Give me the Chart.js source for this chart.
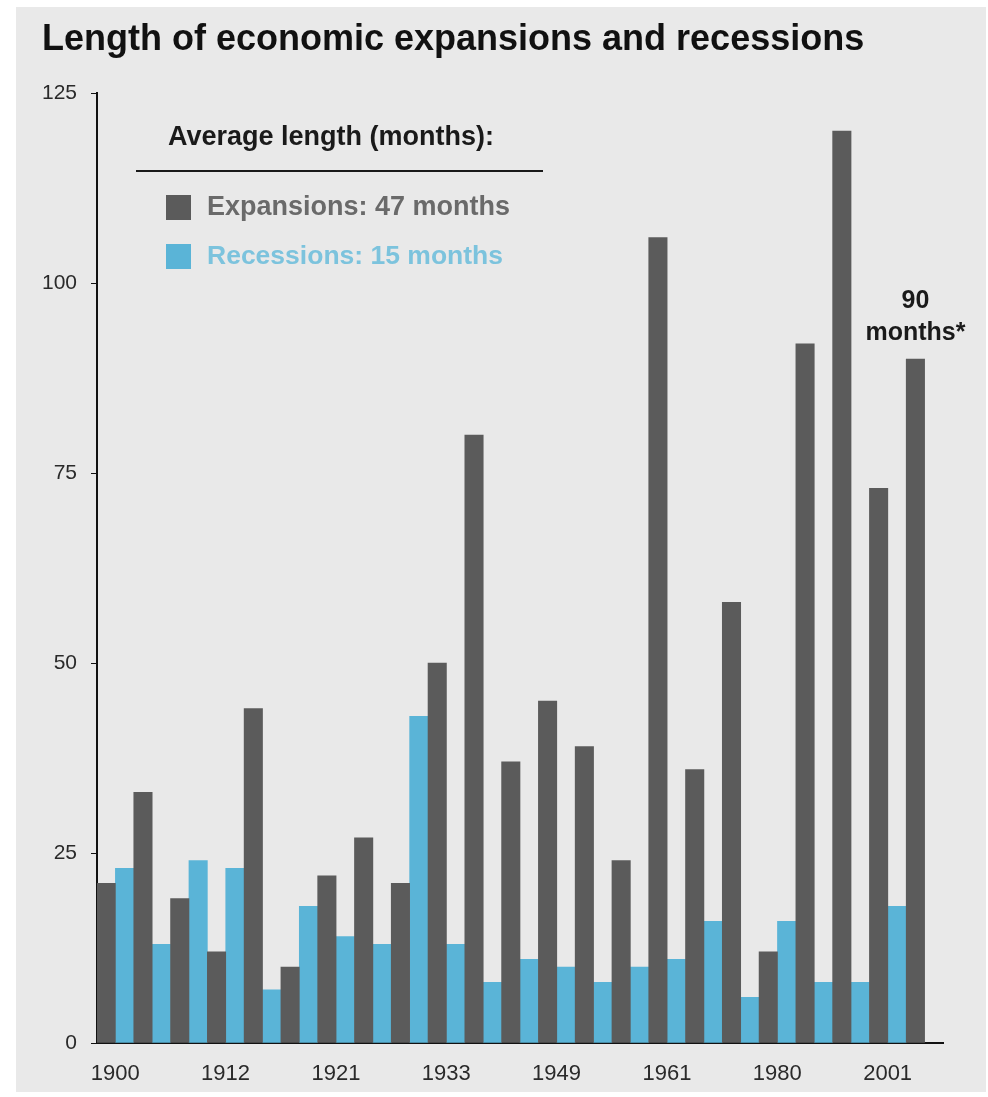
<!DOCTYPE html>
<html>
<head>
<meta charset="utf-8">
<title>Length of economic expansions and recessions</title>
<script src="https://cdn.jsdelivr.net/npm/chart.js@4.4.0/dist/chart.umd.min.js"></script>
<style>
  html, body { margin: 0; padding: 0; background: #fff; }
  #wrap { width: 988px; height: 1097px; }
</style>
</head>
<body>
<div id="wrap"><canvas id="chart" width="988" height="1097"></canvas></div>
<script>
// cycle lengths in months, oldest first
const expansions = [21, 33, 19, 12, 44, 10, 22, 27, 21, 50, 80, 37, 45, 39, 24, 106, 36, 58, 12, 92, 120, 73, 90];
const recessions = [23, 13, 24, 23, 7, 18, 14, 13, 43, 13, 8, 11, 10, 8, 10, 11, 16, 6, 16, 8, 8, 18];
const yearLabels = ['1900', '1912', '1921', '1933', '1949', '1961', '1980', '2001'];
const yTicks = [0, 25, 50, 75, 100, 125];
const legendTitle = 'Average length (months):';
const legendItems = ['Expansions: 47 months', 'Recessions: 15 months'];
const noteLines = ['90', 'months*'];

const FONT = '"Liberation Sans", Arial, Helvetica, sans-serif';
const DARK = '#5b5b5b';
const BLUE = '#5ab4d7';

// expansions and recessions alternate, one slot each, plus an empty slot at the end
const slotCount = 46;
const labels = [];
const expData = [];
const recData = [];
for (let i = 0; i < slotCount; i++) {
  labels.push(i % 6 === 0 ? (yearLabels[i / 6] || '') : '');
  expData.push(i % 2 === 0 && expansions[i / 2] !== undefined ? expansions[i / 2] : null);
  recData.push(i % 2 === 1 && recessions[(i - 1) / 2] !== undefined ? recessions[(i - 1) / 2] : null);
}

// gray panel behind everything
const panelBg = {
  id: 'panelBg',
  beforeDraw(chart) {
    const c = chart.ctx;
    c.save();
    c.fillStyle = '#e9e9e9';
    c.fillRect(16, 7, 970, 1085);
    c.restore();
  }
};

// legend box and the note above the last bar
const extras = {
  id: 'extras',
  afterDraw(chart) {
    const c = chart.ctx;
    c.save();
    c.textBaseline = 'middle';
    c.textAlign = 'left';

    c.fillStyle = '#1a1a1a';
    c.font = 'bold 27px ' + FONT;
    c.fillText(legendTitle, 168, 138);

    c.strokeStyle = '#1a1a1a';
    c.lineWidth = 2;
    c.beginPath();
    c.moveTo(136, 171);
    c.lineTo(543, 171);
    c.stroke();

    const colors = [DARK, BLUE];
    const textColors = ['#6a6a6a', '#7cc3dd'];
    const sizes = [27, 26.5];
    legendItems.forEach((txt, i) => {
      const y = 207 + i * 49;
      c.fillStyle = colors[i];
      c.fillRect(166, y - 12, 25, 25);
      c.fillStyle = textColors[i];
      c.font = 'bold ' + sizes[i] + 'px ' + FONT;
      c.fillText(txt, 207, y + 1);
    });

    // note over the current expansion
    const meta = chart.getDatasetMeta(0);
    const bar = meta.data[(expansions.length - 1) * 2];
    c.fillStyle = '#1a1a1a';
    c.textAlign = 'center';
    c.font = 'bold 25px ' + FONT;
    c.fillText(noteLines[0], bar.x, bar.y - 58);
    c.fillText(noteLines[1], bar.x, bar.y - 26);
    c.restore();
  }
};

const ctx = document.getElementById('chart').getContext('2d');
new Chart(ctx, {
  type: 'bar',
  data: {
    labels: labels,
    datasets: [
      { label: 'Expansions', data: expData, backgroundColor: DARK, grouped: false, barPercentage: 1, categoryPercentage: 1 },
      { label: 'Recessions', data: recData, backgroundColor: BLUE, grouped: false, barPercentage: 1, categoryPercentage: 1 }
    ]
  },
  options: {
    responsive: false,
    animation: false,
    layout: { padding: { left: 42, right: 45, top: 0, bottom: 0 } },
    plugins: {
      legend: { display: false },
      tooltip: { enabled: false },
      title: {
        display: true,
        text: 'Length of economic expansions and recessions',
        align: 'start',
        color: '#111',
        font: { family: FONT, size: 36, weight: 'bold', lineHeight: 1.2 },
        padding: { top: 18, bottom: 32 }
      }
    },
    scales: {
      x: {
        grid: { display: false, drawTicks: false },
        border: { display: true, color: '#111', width: 2 },
        ticks: {
          autoSkip: false,
          maxRotation: 0,
          color: '#2a2a2a',
          font: { family: FONT, size: 22 },
          labelOffset: 9,
          padding: 18
        },
        afterFit: s => { s.height = 54; }
      },
      y: {
        min: 0,
        max: 125,
        afterBuildTicks: s => { s.ticks = yTicks.map(v => ({ value: v })); },
        ticks: { color: '#2a2a2a', font: { family: FONT, size: 21 }, padding: 14 },
        grid: { drawOnChartArea: false, drawTicks: true, tickLength: 6, color: '#111' },
        border: { display: true, color: '#111', width: 2 },
        afterFit: s => { s.width = 55; }
      }
    }
  },
  plugins: [panelBg, extras]
});
</script>
</body>
</html>
